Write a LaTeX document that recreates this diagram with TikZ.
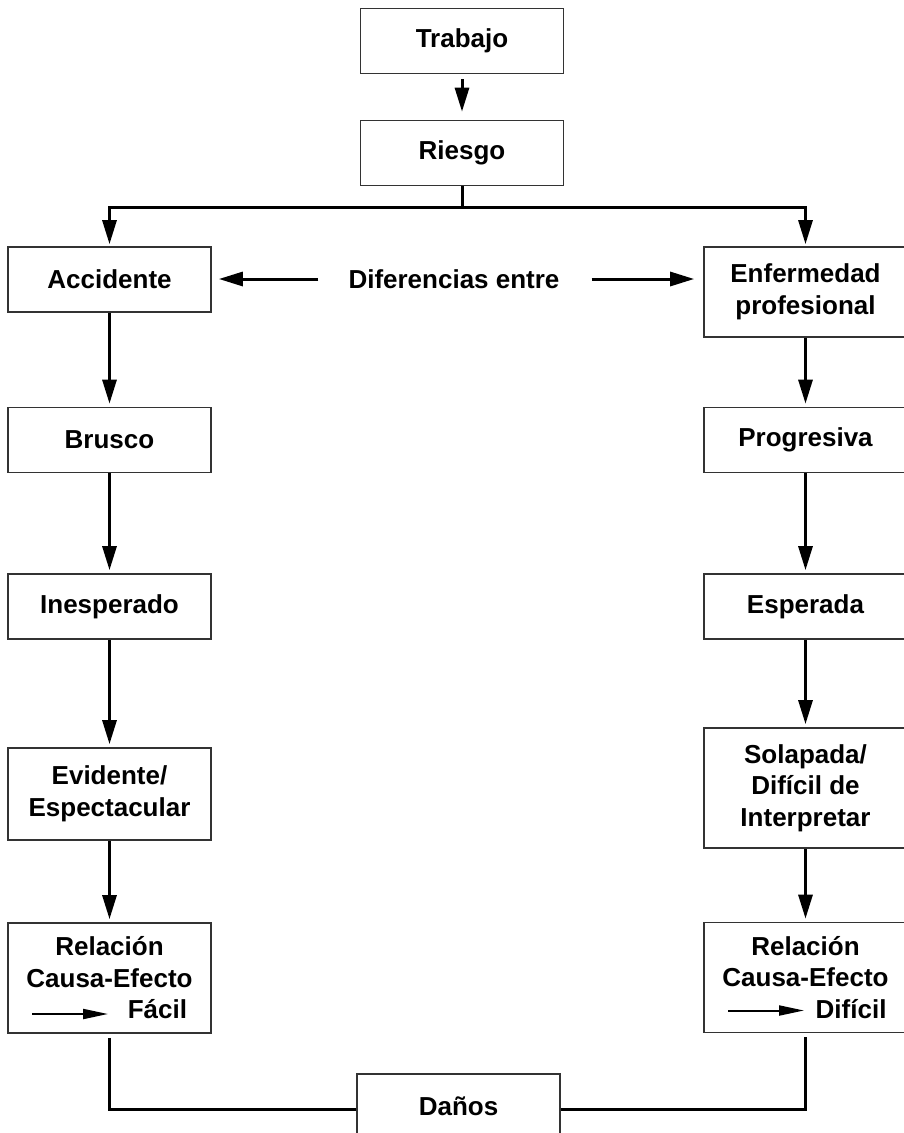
\documentclass[tikz,border=0pt]{standalone}
\usepackage{fontspec}
\setmainfont{Liberation Sans}
\usetikzlibrary{arrows.meta,calc}
\tikzset{
  box/.style={draw=black!80, line width=1.7pt, fill=white, inner sep=0pt,
    minimum width=203pt, minimum height=65pt, align=center,
    font=\fontsize{26}{31.5}\selectfont\bfseries},
  lbl/.style={inner sep=0pt, font=\fontsize{26}{31.5}\selectfont\bfseries},
  conn/.style={line width=3pt, line join=miter},
  arr/.style={conn, -{Triangle[length=24pt,width=14pt]}},
  smallarr/.style={line width=2pt, -{Triangle[length=25pt,width=10pt]}}
}
\begin{document}
\begin{tikzpicture}[x=1pt,y=-1pt]
\clip (0,0) rectangle (904,1133);
\fill[white] (0,0) rectangle (904,1133);
% nodes
\node[box] (trabajo) at (462,41) {Trabajo};
\node[box] (riesgo) at (462,153) {Riesgo};
\node[box] (acc) at (109.5,279.5) {Accidente};
\node[box, minimum height=90pt] (enf) at (805.5,292) {Enfermedad\\profesional};
\node[lbl] (diff) at (454,279) {Diferencias entre};
\node[box] (brusco) at (109.5,440) {Brusco};
\node[box] (prog) at (805.5,440) {Progresiva};
\node[box] (ines) at (109.5,606.5) {Inesperado};
\node[box] (esp) at (805.5,606.5) {Esperada};
\node[box, minimum height=92pt] (evid) at (109.5,794) {Evidente/\\Espectacular};
\node[box, minimum height=120pt] (sol) at (805.5,788) {Solapada/\\Difícil de\\Interpretar};
\node[box, minimum height=110pt] (rel1) at (109.5,978) {Relación\\Causa-Efecto\\\makebox[155pt][r]{Fácil}};
\node[box, minimum height=110pt] (rel2) at (805.5,977.5) {Relación\\Causa-Efecto\\\makebox[162pt][r]{Difícil}};
\node[box] (danos) at (458.5,1106.5) {Daños};
% coordinates
\coordinate (split) at (462,207);
\coordinate (jl) at (109.5,1109);
\coordinate (jr) at (805.5,1109);
% connectors
\draw[arr, shorten <=5pt, shorten >=8pt] (trabajo) -- (riesgo);
\draw[conn] (riesgo.south) -- (split);
\draw[arr, shorten >=2pt] (split) -| (acc.north);
\draw[arr, shorten >=2pt] (split) -| (enf.north);
\draw[arr, shorten <=30pt, shorten >=7pt] (diff.west) -- (diff.west -| acc.east);
\draw[arr, shorten <=32pt, shorten >=9pt] (diff.east) -- (diff.east -| enf.west);
\draw[arr, shorten >=3pt] (acc) -- (brusco);
\draw[arr, shorten >=3pt] (brusco) -- (ines);
\draw[arr, shorten >=3pt] (ines) -- (evid);
\draw[arr, shorten >=3pt] (evid) -- (rel1);
\draw[arr, shorten >=3pt] (enf) -- (prog);
\draw[arr, shorten >=3pt] (prog) -- (esp);
\draw[arr, shorten >=3pt] (esp) -- (sol);
\draw[arr, shorten >=3pt] (sol) -- (rel2);
\draw[conn, shorten <=4pt] (rel1.south) -- (jl) -- (jl -| danos.west);
\draw[conn, shorten <=4pt] (rel2.south) -- (jr) -- (jr -| danos.east);
% small arrows inside the Relación boxes
\draw[smallarr] ($(rel1.center)+(-77.5,36)$) -- ($(rel1.center)+(-1.5,36)$);
\draw[smallarr] ($(rel2.center)+(-77.5,33)$) -- ($(rel2.center)+(-1.5,33)$);
\end{tikzpicture}
\end{document}
